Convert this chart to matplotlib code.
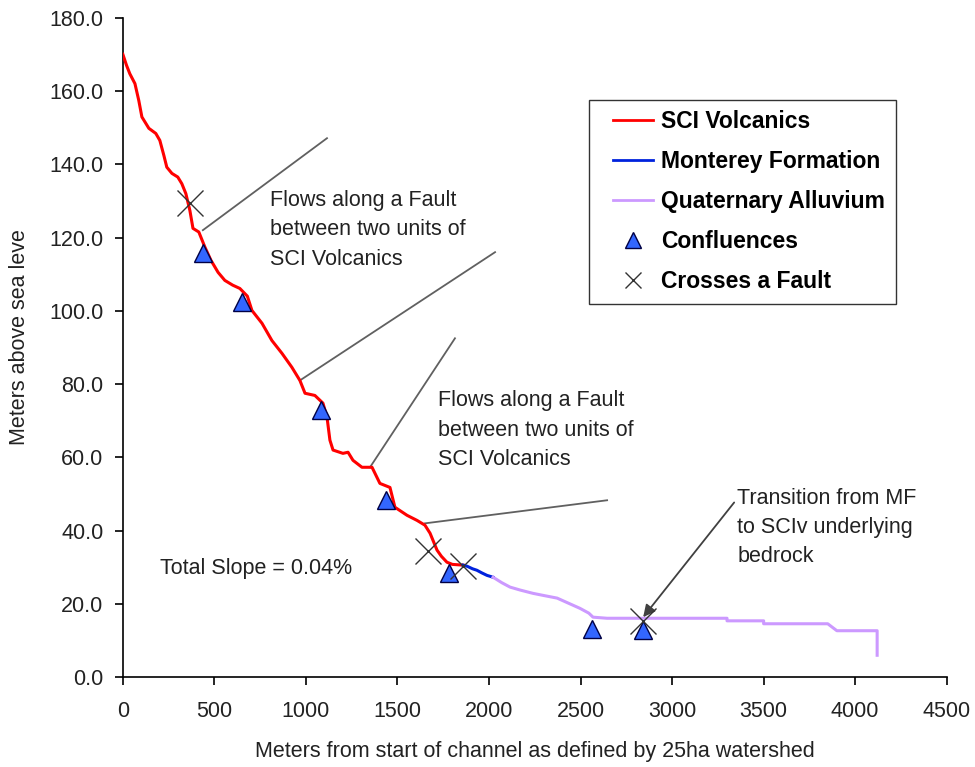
import numpy as np
import matplotlib
matplotlib.use('Agg')
import matplotlib.pyplot as plt
from matplotlib.lines import Line2D
from matplotlib.legend_handler import HandlerLine2D

plt.rcParams['font.family'] = ['Liberation Sans', 'DejaVu Sans']

# channel profile
volc_x = [0, 20, 38, 66, 87, 104, 142, 180, 202, 224, 240, 268, 300, 322, 344,
          366, 383, 415, 448, 481, 520, 557, 600, 639, 680, 705, 760, 814, 869,
          923, 967, 995, 1049, 1093, 1115, 1131, 1148, 1202, 1230, 1257, 1306,
          1361, 1404, 1459, 1486, 1552, 1607, 1650, 1678, 1716, 1740, 1770,
          1800, 1858]
volc_y = [170.0, 167.0, 164.7, 162.0, 157.4, 152.9, 149.8, 148.4, 146.5, 142.4,
          139.2, 137.5, 136.5, 134.7, 132.0, 127.4, 122.5, 121.5, 117.4, 113.8,
          110.5, 108.3, 107.0, 106.1, 104.0, 100.1, 96.6, 91.9, 88.4, 84.6, 81.0,
          77.5, 76.9, 74.8, 71.0, 64.7, 62.0, 61.1, 61.4, 59.2, 57.3, 57.3, 52.9,
          51.8, 46.4, 44.2, 42.8, 41.5, 39.3, 34.7, 33.0, 31.4, 30.8, 30.6]

mont_x = [1858, 1880, 1910, 1934, 1960, 1989, 2022]
mont_y = [30.6, 30.3, 29.6, 29.2, 28.5, 27.8, 27.3]

alluv_x = [2022, 2070, 2115, 2170, 2240, 2300, 2372, 2430, 2497, 2545, 2568,
           2645, 3300, 3300, 3500, 3500, 3850, 3900, 4120, 4120]
alluv_y = [27.3, 25.8, 24.6, 23.8, 22.9, 22.3, 21.6, 20.3, 18.8, 17.5, 16.4,
           16.1, 16.1, 15.4, 15.4, 14.6, 14.6, 12.7, 12.7, 6.0]

conf_x = [437, 650, 1082, 1437, 1781, 2563, 2842]
conf_y = [115.7, 102.3, 72.9, 48.3, 28.4, 13.1, 12.8]

fault_x = [366, 1667, 1858, 2842]
fault_y = [129.3, 34.4, 30.3, 15.3]

fs = 15.5

fig = plt.figure(figsize=(9.75, 7.67), dpi=100)
ax = fig.add_axes([0.126, 0.117, 0.845, 0.860])

ax.plot(volc_x, volc_y, color='#ff0000', lw=2.2, zorder=3)
ax.plot(mont_x, mont_y, color='#0022dd', lw=2.2, zorder=3)
ax.plot(alluv_x, alluv_y, color='#cc99ff', lw=2.2, zorder=3)
ax.plot(conf_x, conf_y, ls='none', marker='^', ms=13, mfc='#3366ff',
        mec='#000044', mew=1.0, zorder=4)
ax.plot(fault_x, fault_y, ls='none', marker='x', ms=19, mec='#333333',
        mew=1.0, zorder=5)

# leader lines from the notes
gray = '#606060'
ax.plot([437, 1115], [122.0, 147.1], color=gray, lw=1.3)
ax.plot([967, 2033], [81.0, 116.0], color=gray, lw=1.3)
ax.plot([1350, 1814], [57.3, 92.5], color=gray, lw=1.3)
ax.plot([1650, 2645], [42.0, 48.3], color=gray, lw=1.3)
ax.annotate('', xy=(2842, 16.4), xytext=(3339, 47.7),
            arrowprops=dict(arrowstyle='-|>', color='#404040', lw=1.3,
                            mutation_scale=18, shrinkA=0, shrinkB=0))

note = 'Flows along a Fault\nbetween two units of\nSCI Volcanics'
ax.text(803, 122.1, note, fontsize=fs, va='center', ha='left', linespacing=1.52,
        color='#222222')
ax.text(1721, 67.4, note, fontsize=fs, va='center', ha='left', linespacing=1.52,
        color='#222222')
ax.text(3355, 40.9, 'Transition from MF\nto SCIv underlying\nbedrock', fontsize=fs,
        va='center', ha='left', linespacing=1.52, color='#222222')
ax.text(202, 29.7, 'Total Slope = 0.04%', fontsize=fs, va='center', ha='left',
        color='#222222')

ax.set_xlim(0, 4500)
ax.set_ylim(0, 180)
ax.set_xticks(np.arange(0, 4501, 500))
ax.set_yticks(np.arange(0, 181, 20))
ax.set_yticklabels(['%.1f' % v for v in np.arange(0, 181, 20)])
ax.tick_params(direction='out', length=6, width=1.2, labelsize=fs, pad=8,
               colors='black', labelcolor='#222222')
ax.tick_params(axis='x', pad=11)
for s in ['top', 'right']:
    ax.spines[s].set_visible(False)
for s in ['left', 'bottom']:
    ax.spines[s].set_linewidth(1.2)

ax.set_xlabel('Meters from start of channel as defined by 25ha watershed',
              fontsize=fs, color='#222222')
ax.set_ylabel('Meters above sea leve', fontsize=fs, color='#222222')
ax.xaxis.set_label_coords(0.5, -0.097)
ax.yaxis.set_label_coords(-0.113, 0.515)

handles = [
    Line2D([], [], color='#ff0000', lw=2.0),
    Line2D([], [], color='#0022dd', lw=2.0),
    Line2D([], [], color='#cc99ff', lw=2.0),
    Line2D([], [], ls='none', marker='^', ms=12, mfc='#3366ff', mec='#000044'),
    Line2D([], [], ls='none', marker='x', ms=12, mec='#333333', mew=1.0),
]
labels = ['SCI Volcanics', 'Monterey Formation', 'Quaternary Alluvium',
          'Confluences', 'Crosses a Fault']
leg = ax.legend(handles, labels, loc='upper left', bbox_to_anchor=(0.566, 0.875),
                prop={'weight': 'bold', 'size': 16.5}, frameon=True, fancybox=False,
                edgecolor='black', handlelength=2.35, handletextpad=0.35,
                labelspacing=0.74, borderpad=0.45, borderaxespad=0,
                handler_map={Line2D: HandlerLine2D(xpad=0.6)})
leg.get_frame().set_linewidth(1.0)

fig.savefig('out.png', dpi=100)
